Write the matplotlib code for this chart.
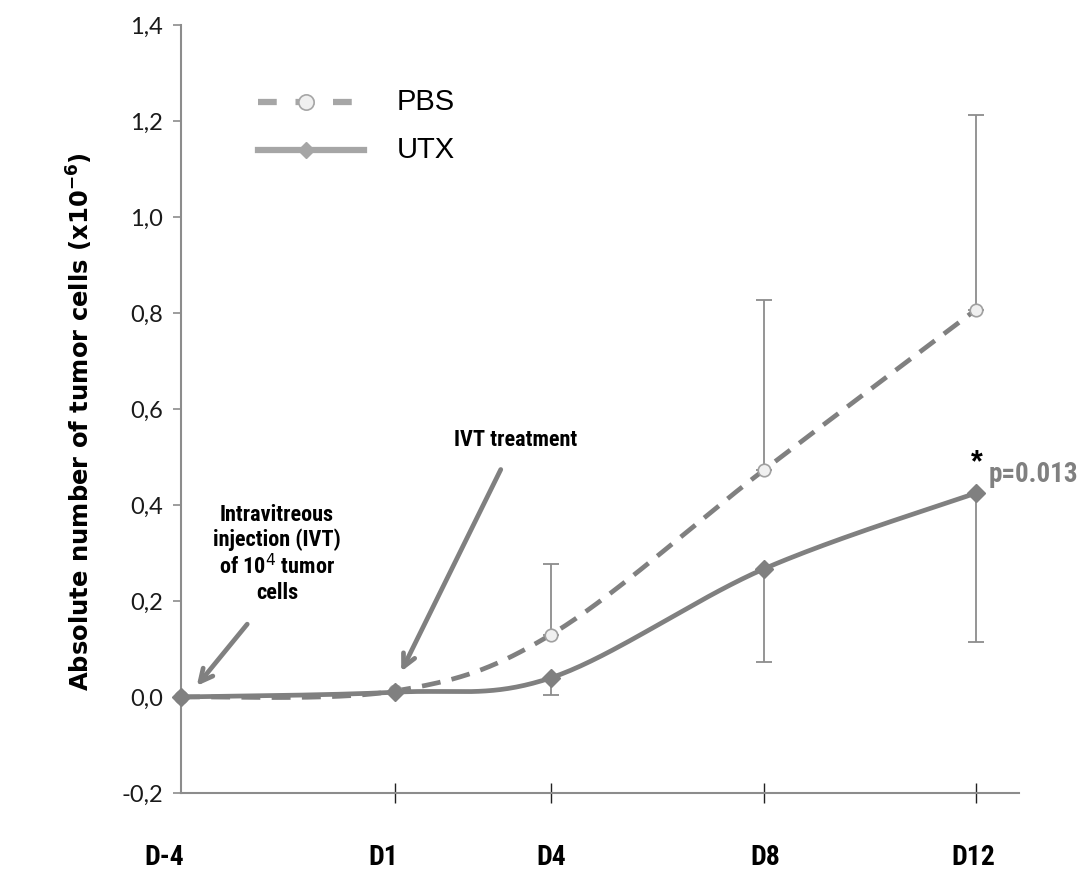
import numpy as np
import matplotlib
matplotlib.use("Agg")
import matplotlib.pyplot as plt
from matplotlib import font_manager as fm
from matplotlib.transforms import offset_copy

# ---------------- data ----------------
days = ["D-4", "D1", "D4", "D8", "D12"]
x_pos = [0, 214, 370, 583, 795]          # horizontal placement of the time points
pbs_mean = [0.0, 0.0125, 0.13, 0.473, 0.807]
pbs_err_up = [0.0, 0.0, 0.147, 0.355, 0.405]
utx_mean = [0.0, 0.01, 0.04, 0.267, 0.425]
utx_err_down = [0.0, 0.0, 0.036, 0.195, 0.31]
y_ticks = [-0.2, 0.0, 0.2, 0.4, 0.6, 0.8, 1.0, 1.2, 1.4]
y_tick_labels = ["-0,2", "0,0", "0,2", "0,4", "0,6", "0,8", "1,0", "1,2", "1,4"]


def pick(names):
    avail = {f.name for f in fm.fontManager.ttflist}
    for n in names:
        if n in avail:
            return n
    return "DejaVu Sans"

narrow = pick(["Liberation Sans Narrow", "Roboto Condensed", "Liberation Sans"])
arial = pick(["Liberation Sans", "Arial", "DejaVu Sans"])
calibri = pick(["Lato", "Open Sans", "DejaVu Sans"])


def excel_smooth(xs, ys, n=40):
    """Cardinal spline through the points (Excel-style smoothed line)."""
    xs = np.asarray(xs, float); ys = np.asarray(ys, float)
    P = np.column_stack([xs, ys])
    out = []
    for i in range(len(P) - 1):
        p0 = P[i - 1] if i > 0 else P[i]
        p1, p2 = P[i], P[i + 1]
        p3 = P[i + 2] if i + 2 < len(P) else P[i + 1]
        c1 = p1 + (p2 - p0) / 6.0
        c2 = p2 - (p3 - p1) / 6.0
        t = np.linspace(0, 1, n)[:, None]
        seg = ((1 - t) ** 3) * p1 + 3 * ((1 - t) ** 2) * t * c1 + 3 * (1 - t) * t ** 2 * c2 + t ** 3 * p2
        out.append(seg if i == 0 else seg[1:])
    s = np.vstack(out)
    return s[:, 0], s[:, 1]


W, H = 1090, 871
fig = plt.figure(figsize=(W / 100, H / 100), dpi=100)
ax = fig.add_axes([181 / W, 1 - 793 / H, (1019 - 181) / W, (793 - 25) / H])
ax.set_xlim(0, 838)
ax.set_ylim(-0.2, 1.4)

line_col = "#808080"

# error bars
ax.errorbar(x_pos[2:], pbs_mean[2:], yerr=[np.zeros(3), pbs_err_up[2:]], fmt="none",
            ecolor="#8c8c8c", elinewidth=1.3, capsize=6, capthick=1.3, zorder=2)
ax.errorbar(x_pos[2:], utx_mean[2:], yerr=[utx_err_down[2:], np.zeros(3)], fmt="none",
            ecolor="#8c8c8c", elinewidth=1.3, capsize=6, capthick=1.3, zorder=2)

# smoothed lines
sx, sy = excel_smooth(x_pos, pbs_mean)
ax.plot(sx, sy, color=line_col, lw=3.4, dashes=(4.0, 2.4), zorder=3, solid_capstyle="butt")
ux, uy = excel_smooth(x_pos, utx_mean)
ax.plot(ux, uy, color=line_col, lw=3.4, zorder=3)

ax.plot(x_pos, pbs_mean, ls="none", marker="o", ms=9, mfc="#f0f0f0", mec="#a0a0a0", mew=1.2,
        zorder=4, clip_on=False)
ax.plot(x_pos, utx_mean, ls="none", marker="D", ms=9.5, mfc=line_col, mec=line_col, zorder=5,
        clip_on=False)

# spines / ticks
for s in ["top", "right"]:
    ax.spines[s].set_visible(False)
ax.spines["left"].set_color("#8c8c8c")
ax.spines["left"].set_linewidth(1.5)
ax.spines["bottom"].set_color("#8c8c8c")
ax.spines["bottom"].set_linewidth(1.5)

ax.set_yticks(y_ticks)
ax.set_yticklabels(y_tick_labels, fontfamily=calibri, fontsize=17, color="#1a1a1a")
ax.tick_params(axis="y", direction="out", length=6, width=1.2, color="#8c8c8c", pad=7)

ax.set_xticks(x_pos[1:])
ax.set_xticklabels([])
ax.tick_params(axis="x", direction="inout", length=14, width=1.0, color="#222222")

label_offsets = [-17, -12, 0, 1, -3]
for xp, lab, off in zip(x_pos, days, label_offsets):
    tr = offset_copy(ax.get_xaxis_transform(), fig=fig, x=off, y=0, units="dots")
    ax.text(xp, -0.0835, lab, transform=tr, ha="center", va="center",
            fontfamily=narrow, fontweight="bold", fontsize=20, color="black")

# y label
fig.text(80 / W, 1 - 422 / H, "Absolute number of tumor cells (x10$^{\\mathbf{-6}}$)",
         rotation=90, ha="center", va="center", fontfamily="DejaVu Sans", fontweight="bold",
         fontsize=17.5)

# legend (manual)
def px2data(px, py):
    return ax.transData.inverted().transform(fig.transFigure.transform((px / W, 1 - py / H)))

leg_col = "#a6a6a6"
lx0, _ = px2data(258, 0)
lx1, _ = px2data(364, 0)
lxm, _ = px2data(306, 0)
_, ly1 = px2data(0, 102)
_, ly2 = px2data(0, 150)
ax.plot([lx0, lx1], [ly1, ly1], color=leg_col, lw=4.5, dashes=(3.0, 3.0), solid_capstyle="butt")
ax.plot([lxm], [ly1], marker="o", ms=11, mfc="#f0f0f0", mec=leg_col, mew=1.2, ls="none")
ax.plot([lx0, lx1], [ly2, ly2], color=leg_col, lw=4.5)
ax.plot([lxm], [ly2], marker="D", ms=8.5, mfc=leg_col, mec=leg_col, ls="none")
tx, _ = px2data(397, 0)
ax.text(tx, ly1, "PBS", fontfamily=arial, fontsize=21, va="center", ha="left")
ax.text(tx, ly2, "UTX", fontfamily=arial, fontsize=21, va="center", ha="left")

# annotations with arrows
ann_font = dict(fontfamily=narrow, fontweight="bold", fontsize=16, color="black")
a1t = px2data(249, 622)
a1h = px2data(195, 688)
ax.annotate("", xy=a1h, xytext=a1t,
            arrowprops=dict(arrowstyle="->,head_length=0.9,head_width=0.45", color=line_col, lw=3.4))
a2t = px2data(502, 467)
a2h = px2data(400, 674)
ax.annotate("", xy=a2h, xytext=a2t,
            arrowprops=dict(arrowstyle="->,head_length=0.9,head_width=0.45", color=line_col, lw=3.4))

c1 = px2data(277, 554)
ax.text(c1[0], c1[1], "Intravitreous\ninjection (IVT)\nof 10$^{4}$ tumor\ncells", ha="center",
        va="center", linespacing=1.15, **ann_font)
c2 = px2data(516, 440)
ax.text(c2[0], c2[1], "IVT treatment", ha="center", va="center", **ann_font)

st = px2data(977, 463)
ax.text(st[0], st[1], "*", ha="center", va="center", fontfamily=arial, fontweight="bold",
        fontsize=22, color="black")
pv = px2data(989, 474)
ax.text(pv[0], pv[1], "p=0.013", ha="left", va="center", fontfamily=narrow, fontweight="bold",
        fontsize=19.5, color="#808080", clip_on=False)

fig.savefig("out.png", dpi=100, facecolor="white")
